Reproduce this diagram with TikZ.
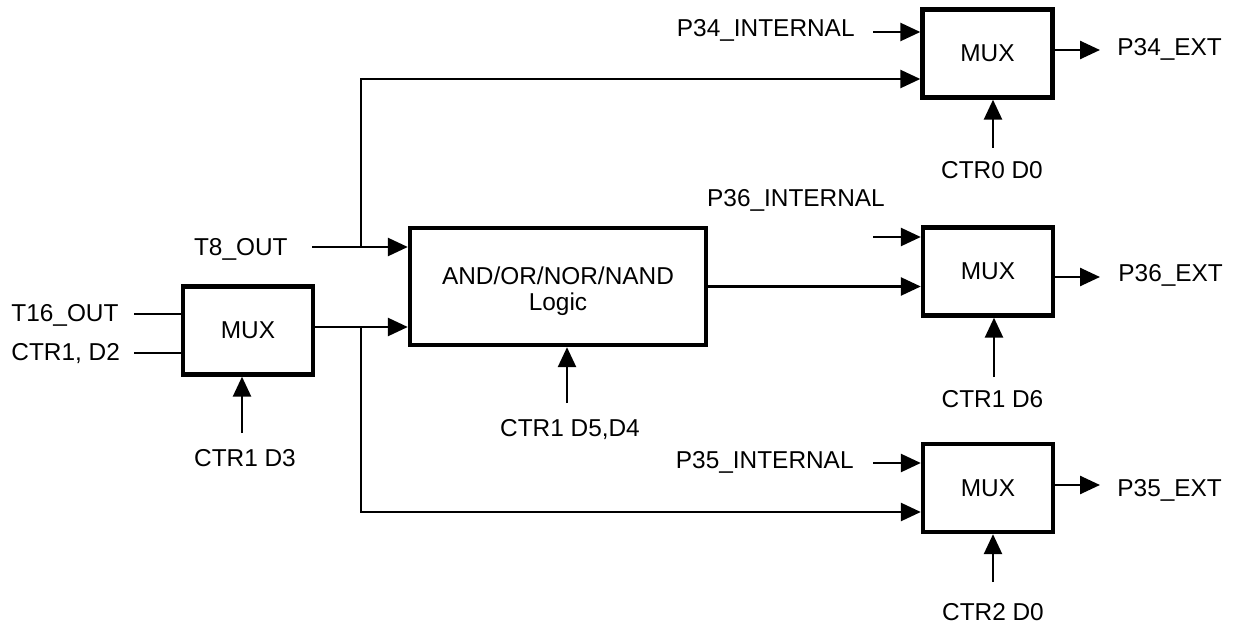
\documentclass[tikz,border=0pt]{standalone}
\usepackage{fontspec}
\setmainfont{Liberation Sans}
\usetikzlibrary{arrows.meta}

\begin{document}
\begin{tikzpicture}[x=0.5pt, y=-0.5pt,
  wire/.style={line width=1.3pt},
  arr/.style={wire, -{Triangle[length=10pt, width=9pt]}},
  blk/.style={draw, line width=2.2pt, inner sep=0pt,
    font=\fontsize{12.2}{12.5}\selectfont},
  muxbox/.style={blk, minimum width=65pt, minimum height=44pt},
  sig/.style={inner sep=0pt, text height=8.7pt, text depth=0pt,
    font=\fontsize{12.2}{14}\selectfont}]

  \useasboundingbox (0,0) rectangle (1238,626);

  % blocks
  \node[muxbox] (selmux) at (248,330.5) {MUX};
  \node[blk, minimum width=148pt, minimum height=58.5pt] (logic) at (558,286.5)
    {\raisebox{-3pt}[\height][\depth]{\begin{tabular}{@{}c@{}}AND/OR/NOR/NAND\\Logic\end{tabular}}};
  \node[muxbox] (mux34) at (987.5,53.5) {MUX};
  \node[muxbox] (mux36) at (988,271.5) {MUX};
  \node[muxbox] (mux35) at (988,488) {MUX};

  % signal names
  \node[sig, anchor=west] (t16)   at (11,313)    {T16\_OUT};
  \node[sig, anchor=west] (ctrd2) at (11,352)    {CTR1, D2};
  \node[sig, anchor=east] (t8)    at (288,247)   {T8\_OUT};
  \node[sig]              (ctrd3) at (245,458)   {CTR1 D3};
  \node[sig]              (ctrd54) at (570,427.5) {CTR1 D5,D4};
  \node[sig, anchor=east] (p34in) at (855,28)    {P34\_INTERNAL};
  \node[sig]              (p36in) at (796,198)   {P36\_INTERNAL};
  \node[sig, anchor=east] (p35in) at (854,460)   {P35\_INTERNAL};
  \node[sig, anchor=west] (p34ex) at (1117,46.5) {P34\_EXT};
  \node[sig, anchor=west] (p36ex) at (1118,272.5) {P36\_EXT};
  \node[sig, anchor=west] (p35ex) at (1117,487.5) {P35\_EXT};
  \node[sig]              (ctr0d0) at (992,169.5) {CTR0 D0};
  \node[sig]              (ctrd6) at (992.5,398.5) {CTR1 D6};
  \node[sig]              (ctr2d0) at (993,611.5) {CTR2 D0};

  % wire ends and branch points
  \coordinate (t16e)  at (134,314);
  \coordinate (d2e)   at (134,353);
  \coordinate (t8e)   at (312,247);
  \coordinate (j8)    at (361,247);
  \coordinate (jm)    at (361,327);
  \coordinate (upper) at (361,79);
  \coordinate (lower) at (361,512);
  \coordinate (in34)  at (873,32);
  \coordinate (in36)  at (873,237);
  \coordinate (in35)  at (873,463);
  \coordinate (out34) at (1100,50);
  \coordinate (out36) at (1100,277);
  \coordinate (out35) at (1100,485);
  \coordinate (c3)    at (242,433);
  \coordinate (c54)   at (567,403);
  \coordinate (c34)   at (993,148);
  \coordinate (c36)   at (994,377);
  \coordinate (c35)   at (993,582);

  % select mux
  \draw[wire] (t16e) -- (selmux.west |- t16e);
  \draw[wire] (d2e) -- (selmux.west |- d2e);
  \draw[arr] (c3) -- (selmux.south -| c3);

  % into the logic block
  \draw[arr] (t8e) -- (logic.west |- t8e);
  \draw[arr] (selmux.east |- jm) -- (logic.west |- jm);
  \draw[arr] (c54) -- (logic.south -| c54);

  % bypass paths
  \draw[arr] (j8) |- (mux34.west |- upper);
  \draw[arr] (jm) |- (mux35.west |- lower);
  \draw[arr] (logic.east) -- (mux36.west |- logic.east);

  % port muxes
  \draw[arr] (in34) -- (mux34.west |- in34);
  \draw[arr] (in36) -- (mux36.west |- in36);
  \draw[arr] (in35) -- (mux35.west |- in35);
  \draw[arr] (mux34.east |- out34) -- (out34);
  \draw[arr] (mux36.east |- out36) -- (out36);
  \draw[arr] (mux35.east |- out35) -- (out35);
  \draw[arr] (c34) -- (mux34.south -| c34);
  \draw[arr] (c36) -- (mux36.south -| c36);
  \draw[arr] (c35) -- (mux35.south -| c35);
\end{tikzpicture}
\end{document}
